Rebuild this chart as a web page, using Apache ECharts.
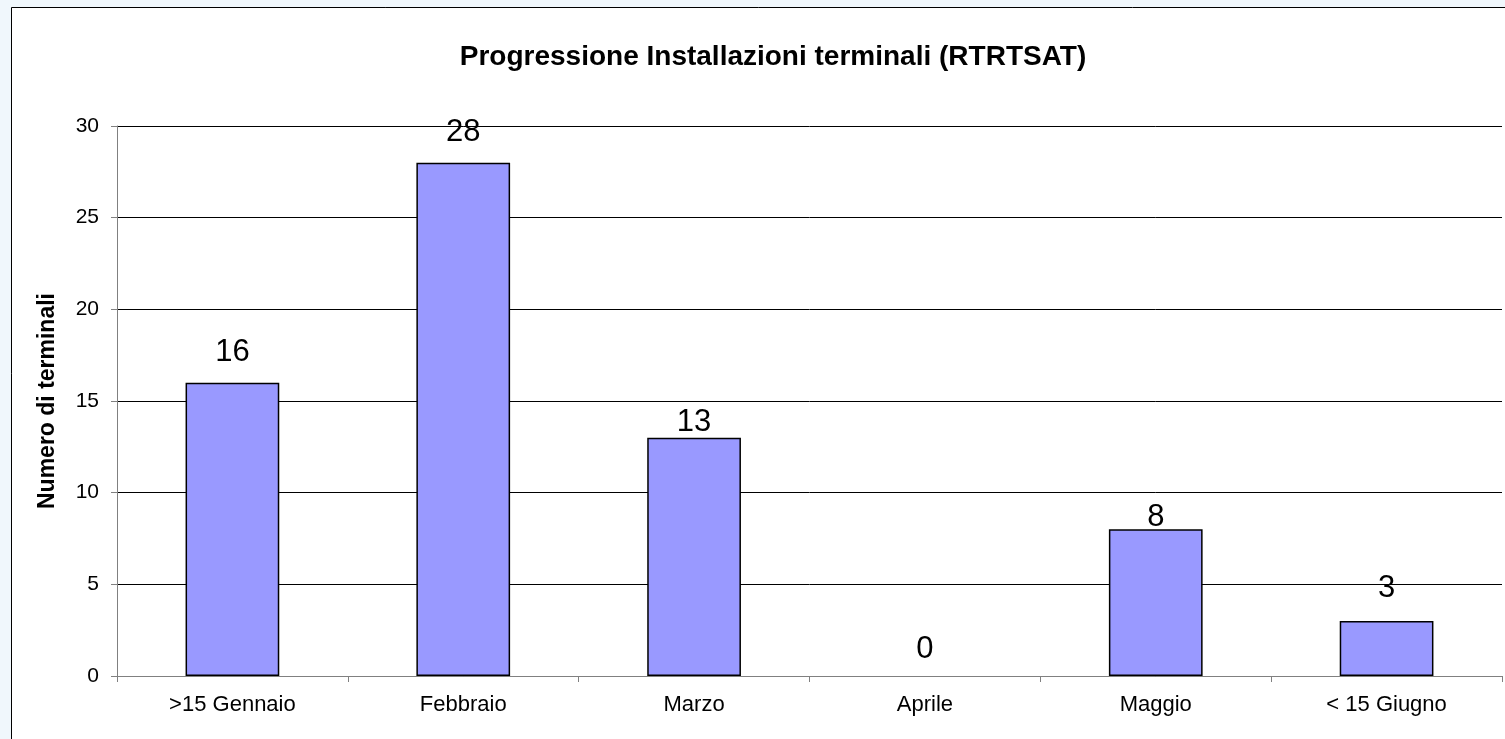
<!DOCTYPE html>
<html>
<head>
<meta charset="utf-8">
<script src="https://cdn.jsdelivr.net/npm/echarts@6/dist/echarts.min.js"></script>
<style>
html,body{margin:0;padding:0;background:#F0F7FC;}
#c{width:1505px;height:739px;}
</style>
</head>
<body>
<div id="c"></div>
<script>
var categories = ['>15 Gennaio', 'Febbraio', 'Marzo', 'Aprile', 'Maggio', '< 15 Giugno'];
var values = [16, 28, 13, 0, 8, 3];
var yTicks = [0, 5, 10, 15, 20, 25, 30];

var labelDistance = [15, 15, 0, 11, -4, 17];

var FONT = '"Liberation Sans", Arial, sans-serif';
var chart = echarts.init(document.getElementById('c'), null, {renderer: 'canvas'});
var option = {
  backgroundColor: '#F0F7FC',
  animation: false,
  graphic: [{
    type: 'rect', z: -10, silent: true,
    shape: {x: 11.5, y: 7.5, width: 1600, height: 800},
    style: {fill: '#FFFFFF', stroke: '#000000', lineWidth: 1}
  }],
  title: {
    text: 'Progressione Installazioni terminali (RTRTSAT)',
    left: 768, top: 38, textAlign: 'center',
    textStyle: {fontFamily: FONT, fontWeight: 'bold', fontSize: 28, color: '#000'}
  },
  grid: {left: 117, right: 3, top: 126, bottom: 63, containLabel: false},
  xAxis: {
    type: 'category',
    data: categories,
    boundaryGap: true,
    axisLine: {show: true, lineStyle: {color: '#808080', width: 1}},
    axisTick: {show: true, alignWithLabel: false, length: 6, lineStyle: {color: '#808080'}},
    axisLabel: {color: '#000', fontSize: 22, fontFamily: FONT, margin: 18, interval: 0},
    splitLine: {show: false}
  },
  yAxis: {
    type: 'value',
    min: yTicks[0], max: yTicks[yTicks.length - 1], interval: 5,
    name: 'Numero di terminali',
    nameLocation: 'middle',
    nameGap: 58,
    nameTextStyle: {fontFamily: FONT, fontWeight: 'bold', fontSize: 23, color: '#000'},
    axisLine: {show: true, lineStyle: {color: '#808080', width: 1}},
    axisTick: {show: true, length: 6, lineStyle: {color: '#808080'}},
    axisLabel: {color: '#000', fontSize: 21, fontFamily: FONT, margin: 18},
    splitLine: {show: true, lineStyle: {color: '#000', width: 1}}
  },
  series: [{
    type: 'bar',
    barWidth: '40.6%',
    data: values.map(function (v, i) {
      return {
        value: v,
        label: {distance: labelDistance[i]},
        itemStyle: v === 0 ? {borderWidth: 0} : {}
      };
    }),
    itemStyle: {color: '#9999FF', borderColor: '#000', borderWidth: 1.5},
    label: {show: true, position: 'top', color: '#000', fontSize: 31, fontFamily: FONT}
  }]
};
chart.setOption(option);
</script>
</body>
</html>
